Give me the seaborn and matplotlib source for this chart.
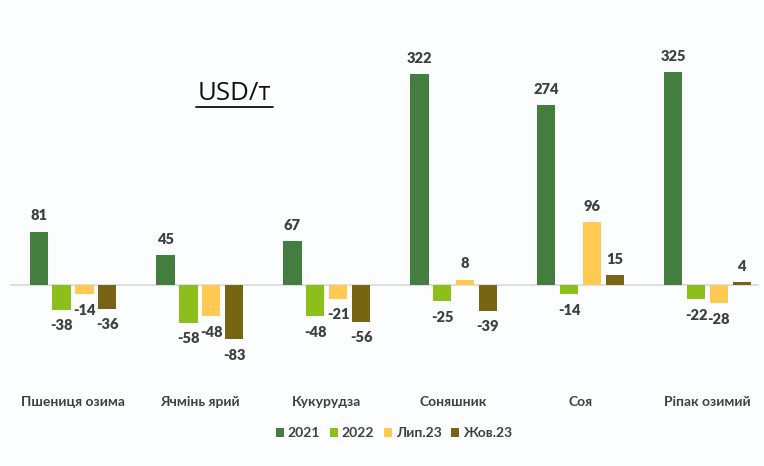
import matplotlib
matplotlib.use("Agg")
import matplotlib.pyplot as plt
import seaborn as sns
import pandas as pd
from matplotlib.lines import Line2D

categories = ["Пшениця озима", "Ячмінь ярий", "Кукурудза", "Соняшник", "Соя", "Ріпак озимий"]
series_names = ["2021", "2022", "Лип.23", "Жов.23"]
v2021 = [81, 45, 67, 322, 274, 325]
v2022 = [-38, -58, -48, -25, -14, -22]
vjul23 = [-14, -48, -21, 8, 96, -28]
voct23 = [-36, -83, -56, -39, 15, 4]
colors = ["#447E3F", "#8CBE1C", "#FFC952", "#776514"]

rows = []
for name, vals in zip(series_names, [v2021, v2022, vjul23, voct23]):
    for c, v in zip(categories, vals):
        rows.append({"cat": c, "series": name, "value": v})
df = pd.DataFrame(rows)

sns.set_theme(style="white")
plt.rcParams["font.family"] = ["Lato", "DejaVu Sans"]

bg = "#FBFDFE"
fig = plt.figure(figsize=(7.64, 4.66), dpi=100, facecolor=bg)
ax = fig.add_axes([9.5 / 764, 0.2479, 750 / 764, 0.6185])
ax.set_facecolor(bg)

sns.barplot(data=df, x="cat", y="value", hue="series", order=categories,
            hue_order=series_names, palette=colors, width=0.72, gap=0.2,
            saturation=1, ax=ax, legend=True, edgecolor="none")

ax.set_xlim(-0.5, 5.41)
ax.set_ylim(-100, 340)
ax.axhline(0, color="#D9D9D9", lw=1.2, zorder=0.5)
for s in ax.spines.values():
    s.set_visible(False)
ax.set_yticks([])
ax.set_xlabel("")
ax.set_ylabel("")
ax.tick_params(axis="x", length=0, pad=0)
ax.set_xticklabels([])

# category labels
for i, c in enumerate(categories):
    ax.annotate(c, xy=(i, 0), xycoords=("data", "figure fraction"),
                xytext=(0, (466 - 402) / 466), textcoords=("offset points", "figure fraction"),
                ha="center", va="center", fontsize=10, fontweight="bold", color="#404040")

# value labels
for cont in ax.containers:
    for bar in cont:
        h = bar.get_height()
        x = bar.get_x() + bar.get_width() / 2
        off = 11.5 if h >= 0 else -11.5
        ax.annotate(f"{int(round(h))}", xy=(x, h), xytext=(0, off), textcoords="offset points",
                    ha="center", va="center", fontsize=10.5, fontweight="heavy", color="#404040")

# legend
handles, labels = ax.get_legend_handles_labels()
ax.get_legend().remove()
fig.legend(handles, labels, loc="center", bbox_to_anchor=(394 / 764, 1 - 433 / 466),
           ncol=4, frameon=False, handlelength=0.6, handleheight=0.6, handletextpad=0.25,
           columnspacing=0.7, prop={"size": 10, "weight": "bold"}, labelcolor="#404040")

# title with underline
fig.text(234 / 764, 1 - 94 / 466, "USD/т", ha="center", va="center", fontsize=18.5,
         color="#111111", family=["Open Sans", "DejaVu Sans"])
fig.add_artist(Line2D([196 / 764, 273 / 764], [1 - 107 / 466, 1 - 107 / 466],
                      color="#111111", lw=1.3, transform=fig.transFigure))

fig.savefig("out.png", dpi=100, facecolor=bg)
